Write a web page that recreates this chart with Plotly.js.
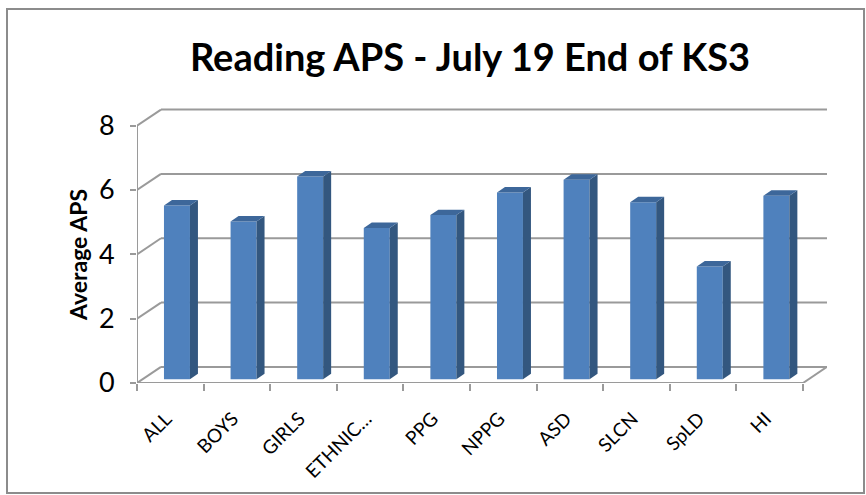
<!DOCTYPE html>
<html>
<head>
<meta charset="utf-8">
<script src="https://cdn.plot.ly/plotly-3.0.1.min.js"></script>
<style>html,body{margin:0;padding:0;background:#fff;}#chart{width:866px;height:495px;}</style>
</head>
<body>
<div id="chart"></div>
<script>
// ---- data ----
var categories = ["ALL", "BOYS", "GIRLS", "ETHNIC\u2026", "PPG", "NPPG", "ASD", "SLCN", "SpLD", "HI"];
var values = [5.4, 4.9, 6.3, 4.7, 5.1, 5.8, 6.2, 5.5, 3.5, 5.7];
var yTicks = [0, 2, 4, 6, 8];

// ---- 3D-look geometry (in data units) ----
var W = 866, H = 495;
var mL = 137, mR = 39, mT = 108, mB = 112;
var backDx = 0.36, backDy = 0.5;      // back wall offset relative to front plane
var barDx = 0.1, barBase = 0.12;      // bar front face offset
var barW = 0.39;
var faceDx = 0.12, faceDy = 0.17;     // bar depth
var labelShift = -0.06;
var xMin = -0.5, xMax = categories.length - 0.5;
var idx = categories.map(function(_, i){ return i; });

var gridColor = "#9a9a9a";
var shapes = [];
function seg(x0, y0, x1, y1){
  shapes.push({type: "line", xref: "x", yref: "y", x0: x0, y0: y0, x1: x1, y1: y1,
               line: {color: gridColor, width: 2}, layer: "below"});
}
// back wall gridlines and left wall diagonals
yTicks.forEach(function(v){
  seg(xMin + backDx, v + backDy, xMax + backDx, v + backDy);
  seg(xMin, v, xMin + backDx, v + backDy);
});
// floor front edge, right floor edge, front vertical axis
seg(xMin, 0, xMax, 0);
seg(xMax, 0, xMax + backDx, backDy);
seg(xMin, 0, xMin, yTicks[yTicks.length-1]);

var traces = [];
// bar front faces
traces.push({
  type: "bar", x: idx.map(function(i){ return i + barDx; }), y: values,
  base: values.map(function(){ return barBase; }), width: barW,
  marker: {color: "#4f81bd", line: {width: 0}}, hoverinfo: "skip", showlegend: false
});
// side and top faces
var sx = [], sy = [], tx = [], ty = [];
values.forEach(function(v, i){
  var cx = i + barDx, l = cx - barW/2, r = cx + barW/2, b = barBase, t = barBase + v;
  sx.push(r, r + faceDx, r + faceDx, r, r, null);
  sy.push(b, b + faceDy, t + faceDy, t, b, null);
  tx.push(l, l + faceDx, r + faceDx, r, l, null);
  ty.push(t, t + faceDy, t + faceDy, t, t, null);
});
traces.push({x: sx, y: sy, mode: "lines", fill: "toself", fillcolor: "#33577f", line: {width: 0, color: "#33577f"}, hoverinfo: "skip", showlegend: false});
traces.push({x: tx, y: ty, mode: "lines", fill: "toself", fillcolor: "#3d679a", line: {width: 0, color: "#3d679a"}, hoverinfo: "skip", showlegend: false});

var plotW = W - mL - mR, plotH = H - mT - mB;
function px2paperX(p){ return (p - mL) / plotW; }
function px2paperY(p){ return (H - mB - p) / plotH; }

// chart border
shapes.push({
  type: "rect", xref: "paper", yref: "paper",
  x0: px2paperX(7), x1: px2paperX(864), y0: px2paperY(9), y1: px2paperY(493),
  line: {color: "#8c8c8c", width: 2}, fillcolor: "rgba(0,0,0,0)", layer: "below"
});

var layout = {
  width: W, height: H,
  margin: {l: mL, r: mR, t: mT, b: mB, autoexpand: false},
  paper_bgcolor: "#ffffff", plot_bgcolor: "rgba(0,0,0,0)",
  font: {family: "Lato, 'Liberation Sans', sans-serif", color: "#000"},
  title: {
    text: "<b>Reading APS - July 19 End of KS3</b>",
    font: {size: 38, family: "Lato, sans-serif", color: "#000"},
    xref: "container", yref: "container", x: 470 / W, y: 1 - 58 / H, xanchor: "center", yanchor: "middle"
  },
  showlegend: false,
  barmode: "overlay",
  xaxis: {
    range: [xMin, xMax + backDx], showgrid: false, zeroline: false, showline: false,
    tickmode: "array", tickvals: idx.map(function(i){ return i + labelShift; }), ticktext: categories, tickangle: -45,
    ticks: "", tickfont: {size: 19}, ticklabelstandoff: 20, fixedrange: true,
    minor: {tickvals: idx.concat([categories.length]).map(function(i){ return i - 0.5; }), ticks: "outside", ticklen: 7, tickwidth: 2, tickcolor: gridColor, showgrid: false}
  },
  yaxis: {
    range: [0, 8.55], showgrid: false, zeroline: false, showline: false,
    tickmode: "array", tickvals: yTicks, ticks: "outside", ticklen: 6, tickwidth: 2, tickcolor: gridColor,
    tickfont: {size: 27}, ticklabelstandoff: 10, fixedrange: true
  },
  annotations: [{
    text: "<b>Average APS</b>", textangle: -90, showarrow: false,
    xref: "paper", yref: "paper", x: px2paperX(78), y: px2paperY(255),
    xanchor: "center", yanchor: "middle", font: {size: 23, color: "#000"}
  }],
  shapes: shapes
};

Plotly.newPlot("chart", traces, layout, {displayModeBar: false, staticPlot: true});
</script>
</body>
</html>
